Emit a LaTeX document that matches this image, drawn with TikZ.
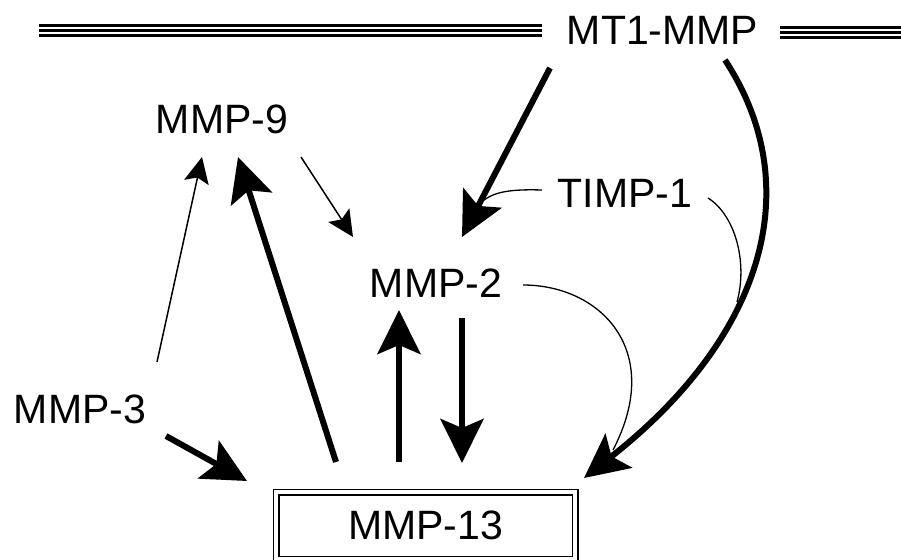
\documentclass[tikz,border=0pt]{standalone}
\usepackage{fontspec}
\setmainfont{Liberation Sans}
\usetikzlibrary{arrows.meta}
\begin{document}
\begin{tikzpicture}[x=1pt,y=-1pt,
  lbl/.style={inner sep=0pt,anchor=base,font=\fontsize{41}{49}\selectfont},
  bigarrow/.style={line width=6pt,-{Stealth[length=44pt,width=43pt,inset=9pt]}},
  thinarrow/.style={line width=1.5pt,-{Stealth[length=26pt,width=25pt,inset=5pt]}},
  thinline/.style={line width=1.3pt},
  membrane/.style={line width=2.6pt}]
\useasboundingbox (0,0) rectangle (901,559);
\clip (0,0) rectangle (901,559);

% labels
\node[lbl] (mt1) at (662.5,45) {MT1-MMP};
\node[lbl] (m9) at (222,133) {MMP-9};
\node[lbl] (timp) at (625,207) {TIMP-1};
\node[lbl] (m2) at (436,297) {MMP-2};
\node[lbl] (m3) at (80,423) {MMP-3};
\node[draw=black,double=white,double distance=4pt,line width=1.5pt,
      minimum width=299pt,minimum height=67pt,inner sep=0pt,
      font=\fontsize{41}{49}\selectfont] (m13) at (425.5,525.5) {MMP-13};

% membrane (three parallel lines on each side of MT1-MMP)
\foreach \yy in {25.5,30.5,35.5}
  \draw[membrane] (39,\yy) -- (542,\yy);
\foreach \yy in {27.5,32.5,37.5}
  \draw[membrane] (780,\yy) -- (901,\yy);

% connector end points
\coordinate (mt1a) at (550,68);
\coordinate (m2top) at (462,237);
\coordinate (mt1b) at (725,60);
\coordinate (m13r) at (584,478);
\coordinate (timpl) at (542,190);
\coordinate (shaft) at (484,200);
\coordinate (timpr) at (708,198);
\coordinate (curve) at (737,302);
\coordinate (m2r) at (523,285);
\coordinate (m13rr) at (613,450);
\coordinate (m13up) at (399,462);
\coordinate (m2up) at (399,310);
\coordinate (m2dn) at (462,318);
\coordinate (m13dn) at (462,463);
\coordinate (m13l) at (336,462);
\coordinate (m9a) at (238,157);
\coordinate (m9b) at (301,157);
\coordinate (m2l) at (353,237);
\coordinate (m3up) at (157,362);
\coordinate (m9c) at (202,157);
\coordinate (m3r) at (166,436);
\coordinate (m13ll) at (247,481);

% thin curves from TIMP-1 and MMP-2
\draw[thinline] (timpl) .. controls (510,189) and (495,192) .. (shaft);
\draw[thinline] (timpr) .. controls (735,215) and (748,262) .. (curve);
\draw[thinline] (m2r) .. controls (600,285) and (665,350) .. (m13rr);

% thick arrows
\draw[bigarrow] (mt1a) -- (m2top);
\draw[bigarrow] (mt1b) .. controls (810,190) and (760,340) .. (m13r);
\draw[bigarrow] (m13up) -- (m2up);
\draw[bigarrow] (m2dn) -- (m13dn);
\draw[bigarrow] (m13l) -- (m9a);
\draw[bigarrow] (m3r) -- (m13ll);

% thin arrows
\draw[thinarrow] (m9b) -- (m2l);
\draw[thinarrow] (m3up) -- (m9c);
\end{tikzpicture}
\end{document}
